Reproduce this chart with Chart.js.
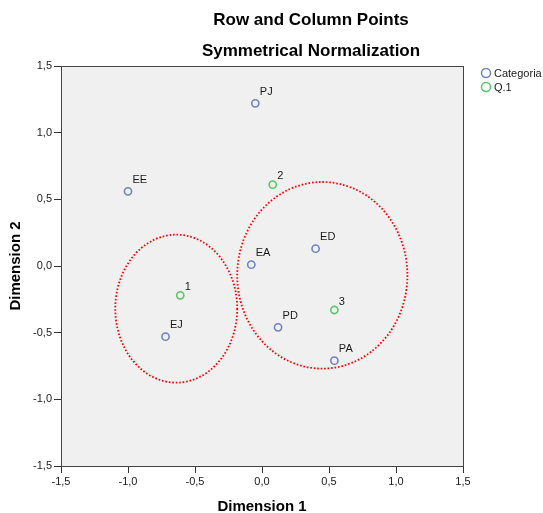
<!DOCTYPE html>
<html>
<head>
<meta charset="utf-8">
<script src="https://cdn.jsdelivr.net/npm/chart.js@4/dist/chart.umd.min.js"></script>
<style>
  html, body { margin: 0; padding: 0; background: #ffffff; }
  #wrap { width: 543px; height: 513px; }
</style>
</head>
<body>
<div id="wrap"><canvas id="c" width="543" height="513"></canvas></div>
<script>
// Row points (Categoria)
const categoriaLabels = ['PJ', 'EE', 'EA', 'ED', 'EJ', 'PD', 'PA'];
const categoriaDim1   = [-0.05, -1.00, -0.08, 0.40, -0.72, 0.12, 0.54];
const categoriaDim2   = [ 1.22,  0.56,  0.01, 0.13, -0.53, -0.46, -0.71];

// Column points (Q.1)
const q1Labels = ['1', '2', '3'];
const q1Dim1   = [-0.61, 0.08, 0.54];
const q1Dim2   = [-0.22, 0.61, -0.33];

// Axis ticks, shared by both dimensions
const axisTicks = [-1.5, -1.0, -0.5, 0.0, 0.5, 1.0, 1.5];

// Cluster outlines: centre and radii in dimension units
const clusterDim1    = [-0.64, 0.45];
const clusterDim2    = [-0.32, -0.07];
const clusterRadius1 = [0.455, 0.635];
const clusterRadius2 = [0.555, 0.70];

const FONT = '"Liberation Sans", Arial, sans-serif';
const fmt = v => v.toFixed(1).replace('.', ',');

const toPoints = (xs, ys) => xs.map((x, i) => ({ x: x, y: ys[i] }));

const pagePlugin = {
  id: 'pagePlugin',
  beforeDraw(chart) {
    const { ctx, chartArea: a } = chart;
    ctx.save();
    ctx.fillStyle = '#ffffff';
    ctx.fillRect(0, 0, chart.width, chart.height);
    ctx.fillStyle = '#f0f0f0';
    ctx.fillRect(a.left, a.top, a.right - a.left, a.bottom - a.top);
    ctx.restore();
  },
  beforeDatasetsDraw(chart) {
    const { ctx, scales } = chart;
    const sx = scales.x, sy = scales.y;
    ctx.save();
    ctx.strokeStyle = '#ff0000';
    ctx.lineWidth = 1.8;
    ctx.setLineDash([1.6, 1.9]);
    clusterDim1.forEach((cx, i) => {
      const px = sx.getPixelForValue(cx);
      const py = sy.getPixelForValue(clusterDim2[i]);
      const rx = Math.abs(sx.getPixelForValue(cx + clusterRadius1[i]) - px);
      const ry = Math.abs(sy.getPixelForValue(clusterDim2[i] + clusterRadius2[i]) - py);
      ctx.beginPath();
      ctx.ellipse(px, py, rx, ry, 0, 0, Math.PI * 2);
      ctx.stroke();
    });
    ctx.restore();
  },
  afterDatasetsDraw(chart) {
    const { ctx, chartArea: a } = chart;
    ctx.save();
    // plot frame
    ctx.strokeStyle = '#444444';
    ctx.lineWidth = 1;
    ctx.strokeRect(Math.round(a.left) + 0.5, Math.round(a.top) + 0.5,
                   Math.round(a.right - a.left), Math.round(a.bottom - a.top));

    // point labels
    ctx.fillStyle = '#1a1a1a';
    ctx.font = '11px ' + FONT;
    ctx.textAlign = 'left';
    ctx.textBaseline = 'middle';
    const labelSets = [categoriaLabels, q1Labels];
    labelSets.forEach((labels, di) => {
      const meta = chart.getDatasetMeta(di);
      meta.data.forEach((pt, i) => {
        const lift = labels[i].length > 1 ? 11.5 : 8.5;
        ctx.fillText(labels[i], pt.x + 4.5, pt.y - lift);
      });
    });

    // titles
    ctx.fillStyle = '#000000';
    ctx.textAlign = 'center';
    ctx.font = 'bold 17px ' + FONT;
    ctx.fillText('Row and Column Points', 311, 20);
    ctx.fillText('Symmetrical Normalization', 311, 51);

    ctx.font = 'bold 15px ' + FONT;
    ctx.fillText('Dimension 1', (a.left + a.right) / 2, 507);
    ctx.save();
    ctx.translate(16, (a.top + a.bottom) / 2);
    ctx.rotate(-Math.PI / 2);
    ctx.fillText('Dimension 2', 0, 0);
    ctx.restore();

    // legend
    ctx.font = '11px ' + FONT;
    ctx.textAlign = 'left';
    chart.data.datasets.forEach((ds, i) => {
      const y = 73 + i * 14;
      ctx.beginPath();
      ctx.lineWidth = 1.5;
      ctx.strokeStyle = ds.borderColor;
      ctx.arc(486, y, 4.5, 0, Math.PI * 2);
      ctx.stroke();
      ctx.fillStyle = '#1a1a1a';
      ctx.fillText(ds.label, 494, y + 0.5);
    });
    ctx.restore();
  }
};

const axisCommon = {
  type: 'linear',
  min: -1.5,
  max: 1.5,
  afterBuildTicks: scale => { scale.ticks = axisTicks.map(v => ({ value: v })); },
  ticks: {
    callback: v => fmt(v),
    color: '#222222',
    font: { family: FONT, size: 11 },
    padding: 2,
    autoSkip: false,
    maxRotation: 0
  },
  grid: {
    drawOnChartArea: false,
    drawTicks: true,
    tickLength: 7,
    color: '#333333',
    lineWidth: 1
  },
  border: { display: true, color: '#444444', width: 1 },
  title: { display: false }
};

new Chart(document.getElementById('c'), {
  type: 'scatter',
  data: {
    datasets: [
      {
        label: 'Categoria',
        data: toPoints(categoriaDim1, categoriaDim2),
        borderColor: '#6f82c8',
        backgroundColor: 'rgba(0,0,0,0)',
        borderWidth: 1.6,
        pointRadius: 3.6,
        pointHoverRadius: 3.6
      },
      {
        label: 'Q.1',
        data: toPoints(q1Dim1, q1Dim2),
        borderColor: '#55c865',
        backgroundColor: 'rgba(0,0,0,0)',
        borderWidth: 1.6,
        pointRadius: 3.6,
        pointHoverRadius: 3.6
      }
    ]
  },
  options: {
    responsive: false,
    animation: false,
    devicePixelRatio: 1,
    layout: { padding: { top: 66, right: 80, bottom: 0, left: 0 } },
    plugins: {
      legend: { display: false },
      title: { display: false },
      tooltip: { enabled: false }
    },
    scales: {
      x: Object.assign({}, axisCommon, {
        position: 'bottom',
        afterFit: s => { s.height = 47; }
      }),
      y: Object.assign({}, axisCommon, {
        position: 'left',
        afterFit: s => { s.width = 61; }
      })
    }
  },
  plugins: [pagePlugin]
});
</script>
</body>
</html>
